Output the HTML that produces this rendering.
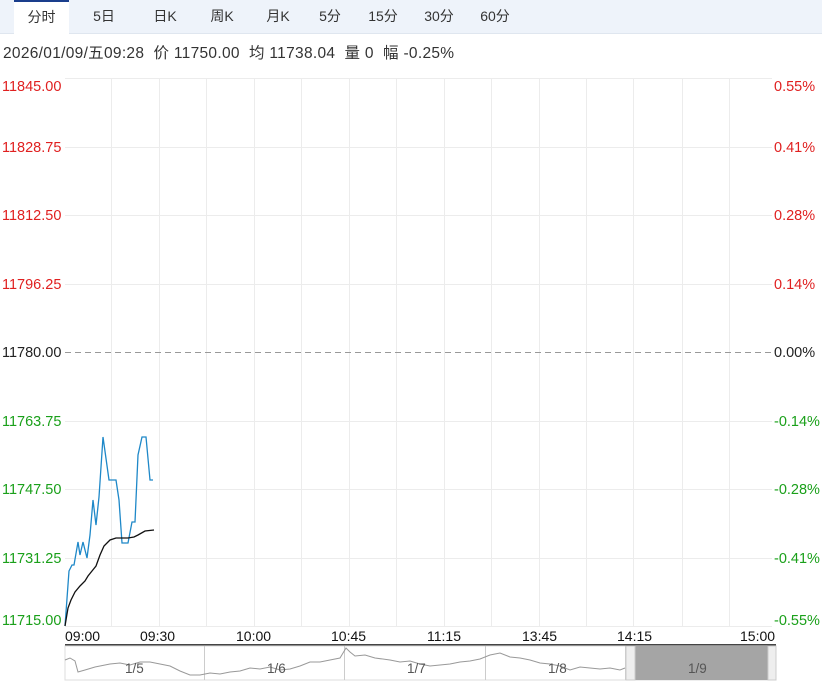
<!DOCTYPE html>
<html><head><meta charset="utf-8"><style>
body{margin:0;width:822px;height:683px;background:#fff;font-family:"Liberation Sans","Noto Sans CJK SC",sans-serif;overflow:hidden;position:relative}
.bar{position:absolute;left:0;top:0;width:822px;height:33px;background:#eef3fa;border-bottom:1px solid #dfe6ef}
.tab{position:absolute;top:0;height:33px;line-height:33px;font-size:14px;color:#333;text-align:center}
.act{background:#fff;border-top:2px solid #1a3e8c;height:32px;line-height:31px}
.info{position:absolute;left:3px;top:41px;font-size:15.5px;letter-spacing:0.3px;color:#333;white-space:nowrap}
</style></head><body>
<div class="bar"></div>
<div class="tab act" style="left:14px;width:55px">分时</div>
<div class="tab" style="left:82px;width:44px">5日</div>
<div class="tab" style="left:140px;width:50px">日K</div>
<div class="tab" style="left:196px;width:52px">周K</div>
<div class="tab" style="left:252px;width:52px">月K</div>
<div class="tab" style="left:305px;width:50px">5分</div>
<div class="tab" style="left:358px;width:50px">15分</div>
<div class="tab" style="left:414px;width:50px">30分</div>
<div class="tab" style="left:470px;width:50px">60分</div>
<div class="info">2026/01/09/五09:28&nbsp; 价 11750.00&nbsp; 均 11738.04&nbsp; 量 0&nbsp; 幅 -0.25%</div>
<svg width="822" height="683" style="position:absolute;left:0;top:0" font-family="Liberation Sans, sans-serif" font-size="14.5">
<g stroke="#ececec" stroke-width="1">
<line x1="65" y1="78.5" x2="772" y2="78.5"/><line x1="65" y1="147.5" x2="772" y2="147.5"/><line x1="65" y1="215.5" x2="772" y2="215.5"/><line x1="65" y1="284.5" x2="772" y2="284.5"/><line x1="65" y1="421.5" x2="772" y2="421.5"/><line x1="65" y1="489.5" x2="772" y2="489.5"/><line x1="65" y1="558.5" x2="772" y2="558.5"/><line x1="65" y1="626.5" x2="772" y2="626.5"/>
<line x1="111.5" y1="78" x2="111.5" y2="627"/><line x1="159.5" y1="78" x2="159.5" y2="627"/><line x1="206.5" y1="78" x2="206.5" y2="627"/><line x1="254.5" y1="78" x2="254.5" y2="627"/><line x1="301.5" y1="78" x2="301.5" y2="627"/><line x1="349.5" y1="78" x2="349.5" y2="627"/><line x1="396.5" y1="78" x2="396.5" y2="627"/><line x1="444.5" y1="78" x2="444.5" y2="627"/><line x1="491.5" y1="78" x2="491.5" y2="627"/><line x1="539.5" y1="78" x2="539.5" y2="627"/><line x1="586.5" y1="78" x2="586.5" y2="627"/><line x1="633.5" y1="78" x2="633.5" y2="627"/><line x1="682.5" y1="78" x2="682.5" y2="627"/><line x1="729.5" y1="78" x2="729.5" y2="627"/>
</g>
<line x1="65" y1="352.5" x2="772" y2="352.5" stroke="#999" stroke-dasharray="6,4"/>
<g fill="#e02020"><text x="2" y="91">11845.00</text><text x="2" y="152">11828.75</text><text x="2" y="220">11812.50</text><text x="2" y="289">11796.25</text>
<text x="774" y="91">0.55%</text><text x="774" y="152">0.41%</text><text x="774" y="220">0.28%</text><text x="774" y="289">0.14%</text></g>
<text x="2" y="357" fill="#222">11780.00</text><text x="774" y="357" fill="#222">0.00%</text>
<g fill="#1aa01a"><text x="2" y="426">11763.75</text><text x="2" y="494">11747.50</text><text x="2" y="563">11731.25</text><text x="2" y="625">11715.00</text>
<text x="774" y="426">-0.14%</text><text x="774" y="494">-0.28%</text><text x="774" y="563">-0.41%</text><text x="774" y="625">-0.55%</text></g>
<polyline fill="none" stroke="#1e88c8" stroke-width="1.3" points="65,626 69,571 72,565 74,565 78,542 80,555 83,542 87,558 90,535 93,500 96,525 99,497 103,437 109,480 116,480 119,500 122,543 128,543 132,522 135,522 138,455 142,437 146,437 150,480 153,480"/>
<polyline fill="none" stroke="#111" stroke-width="1.3" points="65,626 68,608 71,600 75,592 80,586 85,581 88,576 92,571 96,566 100,555 104,546 110,540 116,538 128,538 134,537 138,535 145,531 154,530"/>
<g fill="#111" font-size="14"><text x="65" y="641">09:00</text><text x="140" y="641">09:30</text><text x="236" y="641">10:00</text><text x="331" y="641">10:45</text><text x="427" y="641">11:15</text><text x="522" y="641">13:45</text><text x="617" y="641">14:15</text><text x="740" y="641">15:00</text></g>
<rect x="65" y="644" width="711" height="2" fill="#444"/>
<rect x="65" y="646" width="711" height="34" fill="none" stroke="#ddd"/>
<g stroke="#ccc"><line x1="204.5" y1="646" x2="204.5" y2="680"/><line x1="344.5" y1="646" x2="344.5" y2="680"/><line x1="485.5" y1="646" x2="485.5" y2="680"/><line x1="625.5" y1="646" x2="625.5" y2="680"/></g>
<polyline fill="none" stroke="#999" stroke-width="1" points="65,660 70,658 75,661 78,672 85,670 95,667 110,664 120,663 130,665 140,662 150,662 160,664 170,666 180,671 190,675 200,675 210,673 220,674 230,672 240,671 250,668 260,669 270,667 280,670 290,669 300,666 310,662 320,662 330,660 340,658 346,648 350,652 355,656 365,655 375,658 390,660 400,662 410,661 420,664 430,666 440,665 450,664 460,662 470,661 480,659 490,655 500,653 510,657 520,658 530,660 540,663 550,664 560,666 570,670 580,667 590,668 600,669 610,668 620,670 625,668"/>
<rect x="626" y="646" width="142" height="34" fill="#a5a5a5"/>
<rect x="626" y="646" width="9" height="34" fill="#eee" stroke="#ccc"/>
<rect x="768" y="646" width="8" height="34" fill="#eee" stroke="#ccc"/>
<g fill="#555" font-size="13.5"><text x="125" y="673">1/5</text><text x="267" y="673">1/6</text><text x="407" y="673">1/7</text><text x="548" y="673">1/8</text><text x="688" y="673">1/9</text></g>
</svg>
</body></html>
